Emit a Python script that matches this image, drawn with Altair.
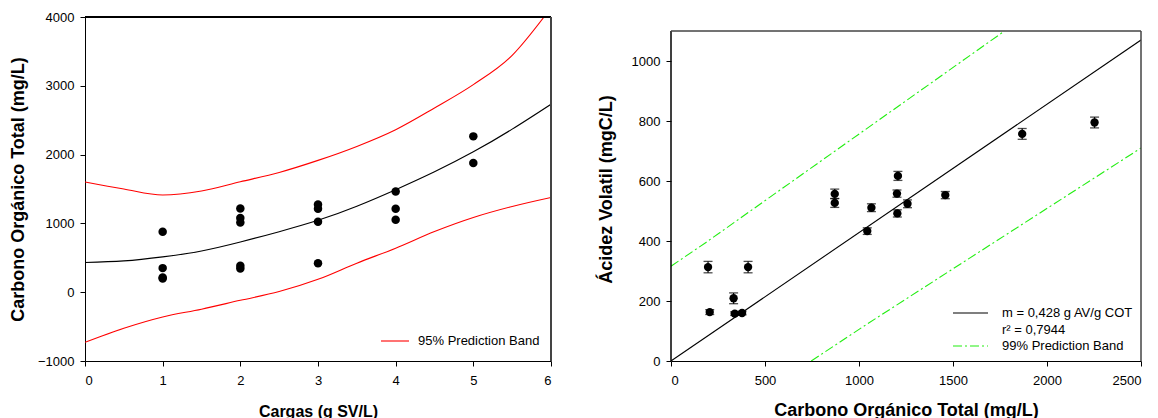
import altair as alt
import pandas as pd

FONT = "Liberation Sans"

# ---------------- Left panel data ----------------
carga = [1, 1, 1, 1, 2, 2, 2, 2, 2, 3, 3, 3, 3, 4, 4, 4, 5, 5]
cot_left = [880, 350, 215, 200, 1217, 1077, 1013, 383, 344, 1275, 1212, 1023, 422,
            1464, 1212, 1052, 2265, 1877]
grid_x = [0, 0.5, 1, 1.5, 2, 2.5, 3, 3.5, 4, 4.5, 5, 5.5, 6]
fit_left = [432, 455, 514, 600, 730, 880, 1045, 1250, 1490, 1750, 2040, 2370, 2732]
lower_band = [-729, -524, -360, -247, -118, 9, 187, 422, 640, 882, 1086, 1246, 1377]
upper_x = [0, 0.5, 1, 1.5, 2, 2.5, 3, 3.5, 4, 4.5, 5, 5.5, 5.91]
upper_band = [1603, 1499, 1412, 1470, 1605, 1741, 1916, 2119, 2362, 2678, 3017, 3442, 4000]
left_x_ticks = [0, 1, 2, 3, 4, 5, 6]
left_y_ticks = [-1000, 0, 1000, 2000, 3000, 4000]
left_legend = ["95% Prediction Band"]

# ---------------- Right panel data ----------------
cot_right = [197, 206, 333, 339, 378, 410, 871, 871, 1044, 1066, 1202, 1207, 1204,
             1258, 1459, 1868, 2253]
av = [313, 163, 209, 158, 160, 313, 557, 527, 433, 511, 558, 617, 492, 524, 553, 757, 795]
av_err = [19, 8, 18, 6, 6, 19, 16, 15, 11, 13, 12, 15, 12, 13, 12, 18, 18]
fit_r_x = [0, 2500]
fit_r_y = [0, 1070]
up99_x = [0, 188, 1774]
up99_y = [316, 396, 1100]
lo99_x = [746, 1040, 2500]
lo99_y = [0, 122, 710]
right_x_ticks = [0, 500, 1000, 1500, 2000, 2500]
right_y_ticks = [0, 200, 400, 600, 800, 1000]
right_legend = ["m = 0,428 g AV/g COT", "r\u00b2 = 0,7944", "99% Prediction Band"]

# ---------------- Left chart ----------------
def LX():
    return alt.X("x:Q", scale=alt.Scale(domain=[0, 6], nice=False, zero=False),
                 axis=alt.Axis(values=left_x_ticks, title="Cargas (g SV/L)", format="d", grid=False,
                               titleFontSize=16, titlePadding=16, labelPadding=8))

def LY():
    return alt.Y("y:Q", scale=alt.Scale(domain=[-1000, 4000], nice=False, zero=False),
                 axis=alt.Axis(values=left_y_ticks, title="Carbono Orgánico Total (mg/L)",
                               format="d", grid=False,
                               titleFontSize=18, titlePadding=10, labelPadding=6))

df_lp = pd.DataFrame({"x": carga, "y": cot_left})
df_fit = pd.DataFrame({"x": grid_x, "y": fit_left})
df_lo = pd.DataFrame({"x": grid_x, "y": lower_band})
df_up = pd.DataFrame({"x": upper_x, "y": upper_band})

l_up = alt.Chart(df_up).mark_line(color="#ff0000", strokeWidth=1.1, interpolate="monotone", clip=True).encode(x=LX(), y=LY())
l_lo = alt.Chart(df_lo).mark_line(color="#ff0000", strokeWidth=1.1, interpolate="monotone", clip=True).encode(x=LX(), y=LY())
l_fit = alt.Chart(df_fit).mark_line(color="black", strokeWidth=1.1, interpolate="natural", clip=True).encode(x=LX(), y=LY())
l_pts = alt.Chart(df_lp).mark_circle(color="black", opacity=1, size=72).encode(x=LX(), y=LY())
l_top = alt.Chart(df_lp).mark_rule(color="black", strokeWidth=1).encode(y=alt.datum(4000))
l_right = alt.Chart(df_lp).mark_rule(color="#444444", strokeWidth=1).encode(x=alt.datum(6))

df_ll = pd.DataFrame({"label": left_legend})
l_leg_line = alt.Chart(df_ll).mark_rule(color="#ff0000", strokeWidth=1.1).encode(
    x=alt.value(296), x2=alt.value(324), y=alt.value(324))
l_leg_text = alt.Chart(df_ll).mark_text(align="left", baseline="middle", font=FONT,
                                         fontSize=13, color="black").encode(
    x=alt.value(333), y=alt.value(324), text="label:N")

left = alt.layer(l_up, l_lo, l_fit, l_pts, l_top, l_right, l_leg_line, l_leg_text).properties(
    width=466, height=344)

# ---------------- Right chart ----------------
# plot area kept at the same height as the left one; frame drawn at 1100
def RX():
    return alt.X("x:Q", scale=alt.Scale(domain=[0, 2500], nice=False, zero=False),
                 axis=alt.Axis(values=right_x_ticks, title="Carbono Orgánico Total (mg/L)",
                               format="d", grid=False,
                               titleFontSize=18, titlePadding=14, labelPadding=8))

def RY(field="y"):
    return alt.Y(f"{field}:Q", scale=alt.Scale(domain=[0, 1146.7], nice=False, zero=False),
                 axis=alt.Axis(values=right_y_ticks, title="Ácidez Volatil (mgC/L)",
                               format="d", grid=False, domain=False,
                               titleFontSize=18, titlePadding=16, labelPadding=6))

df_rp = pd.DataFrame({"x": cot_right, "y": av,
                      "lo": [a - e for a, e in zip(av, av_err)],
                      "hi": [a + e for a, e in zip(av, av_err)]})
df_rfit = pd.DataFrame({"x": fit_r_x, "y": fit_r_y})
df_up99 = pd.DataFrame({"x": up99_x, "y": up99_y})
df_lo99 = pd.DataFrame({"x": lo99_x, "y": lo99_y})

DASH = [9, 3, 2, 3]
GREEN = "#22ee11"
r_up = alt.Chart(df_up99).mark_line(color=GREEN, strokeWidth=1.1, strokeDash=DASH, clip=True).encode(x=RX(), y=RY())
r_lo = alt.Chart(df_lo99).mark_line(color=GREEN, strokeWidth=1.1, strokeDash=DASH, clip=True).encode(x=RX(), y=RY())
r_fit = alt.Chart(df_rfit).mark_line(color="black", strokeWidth=1.1, clip=True).encode(x=RX(), y=RY())
r_bar = alt.Chart(df_rp).mark_rule(color="black", strokeWidth=1.2).encode(
    x=RX(), y=RY("lo"), y2="hi:Q")
r_cap_lo = alt.Chart(df_rp).mark_tick(color="black", orient="horizontal", size=9, thickness=1.3).encode(
    x=RX(), y=RY("lo"))
r_cap_hi = alt.Chart(df_rp).mark_tick(color="black", orient="horizontal", size=9, thickness=1.3).encode(
    x=RX(), y=RY("hi"))
r_pts = alt.Chart(df_rp).mark_circle(color="black", opacity=1, size=70).encode(x=RX(), y=RY())

# frame of the right panel
r_f_left = alt.Chart(df_rfit).mark_rule(color="black", strokeWidth=1).encode(
    x=alt.datum(0), y=alt.datum(0), y2=alt.datum(1100))
r_f_right = alt.Chart(df_rfit).mark_rule(color="#444444", strokeWidth=1).encode(
    x=alt.datum(2500), y=alt.datum(0), y2=alt.datum(1100))
r_f_top = alt.Chart(df_rfit).mark_rule(color="#444444", strokeWidth=1).encode(
    x=alt.datum(0), x2=alt.datum(2500), y=alt.datum(1100))

df_rl = pd.DataFrame({"label": right_legend, "ypix": [296, 313, 329]})
r_leg_fit = alt.Chart(df_rl.iloc[[0]]).mark_rule(color="black", strokeWidth=1.1).encode(
    x=alt.value(282), x2=alt.value(317), y=alt.value(296))
r_leg_band = alt.Chart(df_rl.iloc[[2]]).mark_rule(color=GREEN, strokeWidth=1.1, strokeDash=DASH).encode(
    x=alt.value(282), x2=alt.value(317), y=alt.value(329))
r_leg_text = alt.Chart(df_rl).mark_text(align="left", baseline="middle", font=FONT,
                                         fontSize=13, color="black").encode(
    x=alt.value(331), y=alt.Y("ypix:Q", scale=None, axis=None), text="label:N")

right = alt.layer(r_up, r_lo, r_fit, r_bar, r_cap_lo, r_cap_hi, r_pts,
                  r_f_left, r_f_right, r_f_top,
                  r_leg_fit, r_leg_band, r_leg_text).properties(
    width=470, height=344)

chart = alt.hconcat(left, right, spacing=45).properties(
    padding={"left": 9, "top": 11, "right": 0, "bottom": 0},
    background="white"
).configure_view(strokeOpacity=0).configure_axis(
    labelFont=FONT, labelFontSize=13, labelColor="black",
    titleFont=FONT, titleFontWeight="bold", titleColor="black",
    tickColor="black", domainColor="black", tickSize=5, grid=False,
    domainWidth=1, tickWidth=1
)

chart.save("out.html", embed_options={"renderer": "svg", "actions": False})
